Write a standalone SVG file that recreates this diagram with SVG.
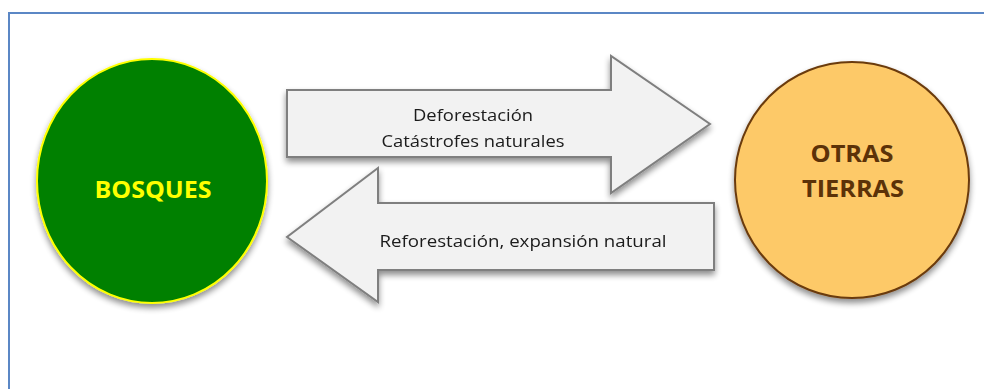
<svg xmlns="http://www.w3.org/2000/svg" width="984" height="389" viewBox="0 0 984 389">
  <defs>
    <filter id="shadow" x="-20%" y="-20%" width="140%" height="150%">
      <feGaussianBlur in="SourceAlpha" stdDeviation="3"/>
      <feOffset dx="0" dy="4" result="b"/>
      <feComponentTransfer><feFuncA type="linear" slope="0.45"/></feComponentTransfer>
      <feMerge><feMergeNode/><feMergeNode in="SourceGraphic"/></feMerge>
    </filter>
  </defs>
  <style>
    .frame { fill: #ffffff; stroke: #5b87c5; stroke-width: 2; }
    .arrow { fill: #f2f2f2; stroke: #7f7f7f; stroke-width: 2; stroke-linejoin: miter; }
    .lbl { font-family: "Open Sans", "Liberation Sans", sans-serif; font-size: 17px; fill: #1a1a1a; text-anchor: middle; }
    .node { font-family: "Open Sans", "Liberation Sans", sans-serif; font-size: 24px; font-weight: bold; text-anchor: middle; }
  </style>
  <rect width="984" height="389" fill="#ffffff"/>
  <!-- outer frame: only the left and top edges fall inside the view -->
  <rect class="frame" x="9" y="13" width="1000" height="400"/>

  <g id="connectors">
    <g id="arrow-deforestacion" filter="url(#shadow)">
      <polygon class="arrow" points="287,90 611,90 611,56 710,124 611,193 611,157 287,157"/>
      <text class="lbl" x="473" y="121" textLength="120" lengthAdjust="spacingAndGlyphs">Deforestación</text>
      <text class="lbl" x="473" y="147" textLength="183" lengthAdjust="spacingAndGlyphs">Catástrofes naturales</text>
    </g>
    <g id="arrow-reforestacion" filter="url(#shadow)">
      <polygon class="arrow" points="714,203 378,203 378,168 287,237 378,302 378,270 714,270"/>
      <text class="lbl" x="523" y="247" textLength="287" lengthAdjust="spacingAndGlyphs">Reforestación, expansión natural</text>
    </g>
  </g>

  <g id="bosques">
    <ellipse cx="152" cy="181" rx="115" ry="122" fill="#008000" stroke="#ffff00" stroke-width="2" filter="url(#shadow)"/>
    <text class="node" x="153" y="198" fill="#ffff00" textLength="117" lengthAdjust="spacingAndGlyphs">BOSQUES</text>
  </g>

  <g id="otras-tierras">
    <ellipse cx="852" cy="180" rx="117" ry="118" fill="#fdc968" stroke="#6b3a0a" stroke-width="2" filter="url(#shadow)"/>
    <text class="node" x="852" y="162" fill="#5c3208" textLength="83" lengthAdjust="spacingAndGlyphs">OTRAS</text>
    <text class="node" x="853" y="197" fill="#5c3208" textLength="102" lengthAdjust="spacingAndGlyphs">TIERRAS</text>
  </g>
</svg>
